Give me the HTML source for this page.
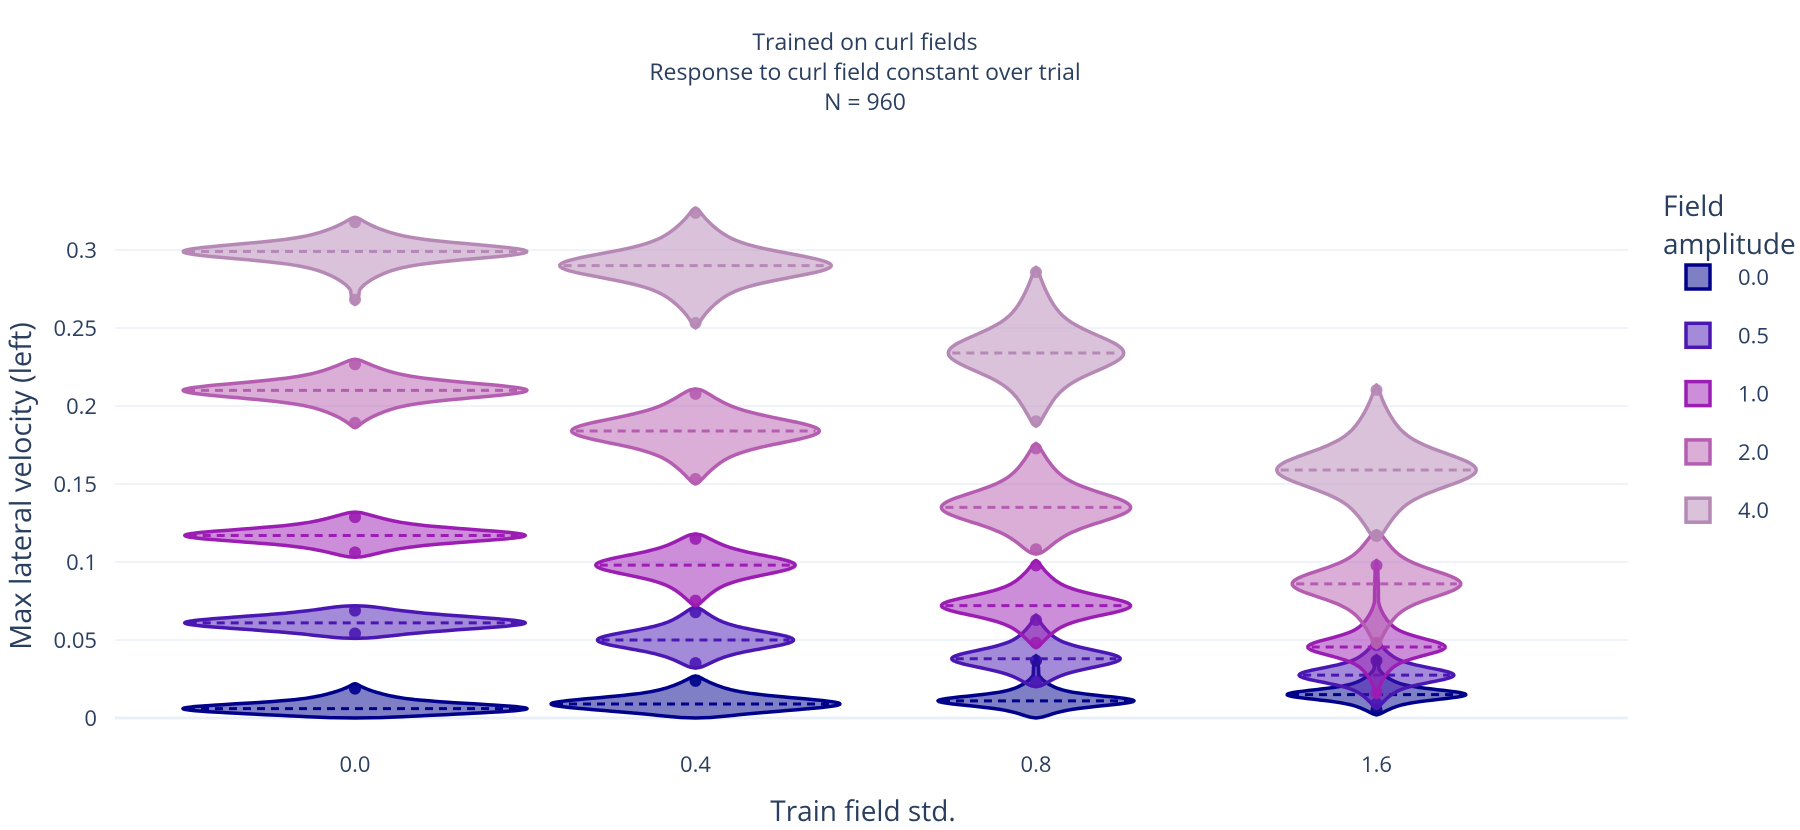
<!DOCTYPE html>
<html><head><meta charset="utf-8">
<style>
html,body{margin:0;padding:0;background:#fff;}
svg{display:block;font-family:"Open Sans","Liberation Sans",sans-serif;}
</style></head>
<body>
<svg id="chart" width="1800" height="830" viewBox="0 0 1800 830">
  <g fill="#2a3f5f" font-size="23" text-anchor="middle">
    <text x="865" y="50">Trained on curl fields</text>
    <text x="865" y="80">Response to curl field constant over trial</text>
    <text x="865" y="110">N = 960</text>
  </g>
  <g id="grid"></g>
  <g id="yticks" fill="#2a3f5f" font-size="22" text-anchor="end"></g>
  <g id="xticks" fill="#2a3f5f" font-size="22" text-anchor="middle"></g>
  <text x="0" y="0" transform="translate(31,486) rotate(-90)" fill="#2a3f5f" font-size="29" text-anchor="middle">Max lateral velocity (left)</text>
  <text x="863" y="821" fill="#2a3f5f" font-size="28" text-anchor="middle">Train field std.</text>
  <g id="violins"></g>
  <g id="legend">
    <text x="1663" y="216" fill="#2a3f5f" font-size="28">Field</text>
    <text x="1663" y="254" fill="#2a3f5f" font-size="28">amplitude</text>
  </g>
</svg>
<script>
const categories = ["0.0","0.4","0.8","1.6"];
const amplitudes = ["0.0","0.5","1.0","2.0","4.0"];
const yTicks = [0,0.05,0.1,0.15,0.2,0.25,0.3];
const yTickLabels = ["0","0.05","0.1","0.15","0.2","0.25","0.3"];
// medians[amplitude][category]
const medians = [
  [0.006,0.009,0.011,0.015],
  [0.061,0.050,0.038,0.0275],
  [0.117,0.098,0.072,0.0455],
  [0.210,0.184,0.135,0.086],
  [0.299,0.290,0.234,0.159]
];
const mins = [
  [0.000,0.000,0.000,0.002],
  [0.051,0.032,0.020,0.006],
  [0.103,0.072,0.045,0.013],
  [0.186,0.150,0.105,0.045],
  [0.265,0.250,0.187,0.114]
];
const maxs = [
  [0.022,0.027,0.040,0.040],
  [0.072,0.071,0.066,0.050],
  [0.132,0.118,0.101,0.101],
  [0.230,0.211,0.176,0.120],
  [0.321,0.327,0.289,0.2135]
];
const spreads = [
  [0.004,0.005,0.004,0.004],
  [0.005,0.007,0.007,0.006],
  [0.005,0.008,0.008,0.007],
  [0.006,0.010,0.012,0.011],
  [0.006,0.010,0.015,0.014]
];
// relative density peak width (fraction of max category width)
const peakWidths = [
  [1.0,0.84,0.57,0.52],
  [0.99,0.57,0.49,0.45],
  [0.99,0.58,0.55,0.40],
  [1.0,0.72,0.55,0.49],
  [1.0,0.79,0.51,0.58]
];
const strokes = ["#00008b","#4a17b3","#9c1db3","#b55db0","#b688b5"];
const fills   = ["rgba(0,0,139,0.5)","rgba(74,23,179,0.5)","rgba(156,29,179,0.5)","rgba(181,93,176,0.5)","rgba(182,136,181,0.5)"];

const NS="http://www.w3.org/2000/svg";
const plotL=115, plotR=1628;
const yScale = v => 718 - v*1560;
const xScale = i => 355 + i*340.5;
const maxHalf = 172;

const grid=document.getElementById('grid'), yt=document.getElementById('yticks'), xt=document.getElementById('xticks');
yTicks.forEach((t,i)=>{
  const l=document.createElementNS(NS,'line');
  
  
  l.setAttribute('x1',plotL);l.setAttribute('x2',plotR);
  l.setAttribute('y1',yScale(t));l.setAttribute('y2',yScale(t));
  l.setAttribute('stroke','#ebf0f8');l.setAttribute('stroke-width',t===0?3:1.5);
  grid.appendChild(l);
  const tx=document.createElementNS(NS,'text');
  
  
  tx.setAttribute('x',97);tx.setAttribute('y',yScale(t)+8);
  tx.textContent=yTickLabels[i];
  yt.appendChild(tx);
});
categories.forEach((c,i)=>{
  const tx=document.createElementNS(NS,'text');
  
  
  tx.setAttribute('x',xScale(i));tx.setAttribute('y',772);
  tx.textContent=c;
  xt.appendChild(tx);
});

function widthAt(v,a,c){
  const m=medians[a][c], s=spreads[a][c], lo=mins[a][c], hi=maxs[a][c];
  const d=v-m;
  const ext = d>=0 ? Math.max(hi-m,1e-4) : Math.max(m-lo,1e-4);
  const t=Math.min(Math.abs(d)/ext,1);
  const dens=0.62*Math.exp(-(d/s)*(d/s))+0.38*Math.exp(-(d/(2.6*s))*(d/(2.6*s)));
  const taper=Math.sqrt(Math.max(0,1-Math.pow(t,4)));
  return maxHalf*peakWidths[a][c]*Math.max(dens*taper,0.03*taper);
}

const vg=document.getElementById('violins');
amplitudes.forEach((amp,a)=>{
  const g=document.createElementNS(NS,'g');
  
  
  categories.forEach((cat,c)=>{
    const cx=xScale(c), lo=mins[a][c], hi=maxs[a][c], N=80;
    const right=[], left=[];
    for(let k=0;k<=N;k++){
      const v=lo+(hi-lo)*k/N;
      const w=widthAt(v,a,c);
      right.push([cx+w,yScale(v)]);
      left.push([cx-w,yScale(v)]);
    }
    const pts=right.concat(left.reverse());
    const p=document.createElementNS(NS,'path');
    
    
    p.setAttribute('d','M'+pts.map(q=>q[0].toFixed(1)+','+q[1].toFixed(1)).join('L')+'Z');
    p.setAttribute('fill',fills[a]);p.setAttribute('stroke',strokes[a]);
    p.setAttribute('stroke-width',3.5);p.setAttribute('stroke-linejoin','round');
    g.appendChild(p);
    const m=medians[a][c], mw=widthAt(m,a,c)-4;
    const ml=document.createElementNS(NS,'line');
    
    
    ml.setAttribute('x1',cx-mw);ml.setAttribute('x2',cx+mw);
    ml.setAttribute('y1',yScale(m));ml.setAttribute('y2',yScale(m));
    ml.setAttribute('stroke',strokes[a]);ml.setAttribute('stroke-width',3);
    ml.setAttribute('stroke-dasharray','8,6');
    g.appendChild(ml);
    [lo,hi].forEach((v,j)=>{
      if(v<=0.001) return;
      const d=document.createElementNS(NS,'circle');
      
      
      d.setAttribute('cx',cx);d.setAttribute('cy',yScale(v)+(j?5:-5));d.setAttribute('r',6);
      d.setAttribute('fill',strokes[a]);d.setAttribute('opacity',0.9);
      g.appendChild(d);
    });
  });
  vg.appendChild(g);
});

const lg=document.getElementById('legend');
amplitudes.forEach((amp,a)=>{
  const y=277+a*58.3;
  const r=document.createElementNS(NS,'rect');
  
  
  r.setAttribute('x',1686);r.setAttribute('y',y-12);r.setAttribute('width',24);r.setAttribute('height',24);
  r.setAttribute('fill',fills[a]);r.setAttribute('stroke',strokes[a]);r.setAttribute('stroke-width',3.5);
  lg.appendChild(r);
  const t=document.createElementNS(NS,'text');
  
  
  t.setAttribute('x',1738);t.setAttribute('y',y+8);
  t.setAttribute('fill','#2a3f5f');t.setAttribute('font-size',22);
  t.textContent=amp;
  lg.appendChild(t);
});
</script>
</body></html>
